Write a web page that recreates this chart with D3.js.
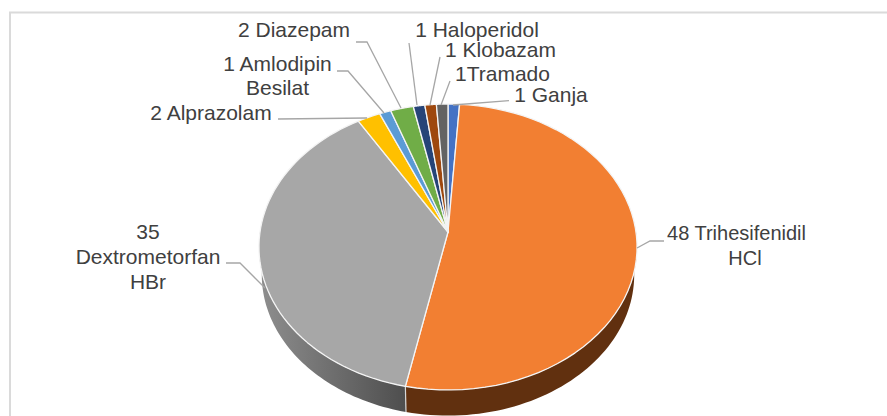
<!DOCTYPE html>
<html><head><meta charset="utf-8">
<script src="https://cdn.jsdelivr.net/npm/d3@7/dist/d3.min.js"></script>
<style>html,body{margin:0;background:#fff}svg{display:block}</style></head>
<body><svg id="c" width="887" height="416"></svg>
<script>
const categories=["Ganja","Trihesifenidil HCl","Dextrometorfan HBr","Alprazolam","Amlodipin Besilat","Diazepam","Haloperidol","Klobazam","Tramadol"];
const values=[1,48,35,2,1,2,1,1,1];
const colors=["#4472C4","#F27F32","#A7A7A7","#FFC000","#5B9BD5","#70AD47","#264478","#9E480E","#636363"];
const wallColors=["#2A4578","#61300F","url(#wallGray)","#9A7400","#37608A","#43692A","#172A4A","#602C08","#3C3C3C"];
const labelLines=[
 {lines:["1 Ganja"],x:551,y:[102],size:21},
 {lines:["48 Trihesifenidil","HCl"],x:[736.5,745],y:[240,265],size:20},
 {lines:["35","Dextrometorfan","HBr"],x:[148,148,148],y:[239,264,289],size:21},
 {lines:["2 Alprazolam"],x:211,y:[120],size:21},
 {lines:["1 Amlodipin","Besilat"],x:[277.5,277.5],y:[71,95],size:21},
 {lines:["2 Diazepam"],x:294,y:[37],size:21},
 {lines:["1 Haloperidol"],x:477,y:[37],size:21},
 {lines:["1 Klobazam"],x:500.5,y:[57],size:21},
 {lines:["1Tramado"],x:502.5,y:[81],size:21}
];
const leaders=[
 [[509,100.7],[453,105]],
 [[664,241],[650,241],[637,248]],
 [[226,263],[240,263],[265,288]],
 [[278,119],[367,118]],
 [[337,71],[348,71],[384,113]],
 [[356,42],[367,42],[401,108]],
 [[409,43],[417,105]],
 [[440,57],[430,105]],
 [[450,81],[441,105]]
];
const svg=d3.select("#c");
const defs=svg.append("defs");
const g=defs.append("linearGradient").attr("id","wallGray").attr("gradientUnits","userSpaceOnUse")
 .attr("x1",260).attr("x2",406).attr("y1",0).attr("y2",0);
g.append("stop").attr("offset","0").attr("stop-color","#8E8E8E");
g.append("stop").attr("offset","1").attr("stop-color","#4E4E4E");
// frame
svg.append("path").attr("d","M10 416V12.5H887").attr("fill","none").attr("stroke","#DADADA").attr("stroke-width",2);
// tilted-disc projection
const k=0.105,apexX=448,apexY=232,R=188,Q=141.4,depth=26,shrink=0.985;
const face=t=>{const u=Math.sin(t),v=-Math.cos(t),d=1-k*v;return [apexX+R*u/d,apexY+Q*v/d];};
const low=t=>{const p=face(t);return [apexX+(p[0]-apexX)*shrink,apexY+(p[1]-apexY)*shrink+depth+2];};
const pie=d3.pie().sort(null).value(d=>d)(values);
const line=d3.line();
const samples=(a,b)=>d3.range(0,61).map(i=>a+(b-a)*i/60);
// side walls: only the near half of the disc
const HALF=Math.PI/2,OPP=Math.PI*1.5;
pie.forEach((s,i)=>{
 const a=Math.max(s.startAngle,HALF),b=Math.min(s.endAngle,OPP);
 if(b<=a)return;
 const ts=samples(a,b);
 const pts=ts.map(face).concat(ts.slice().reverse().map(low));
 svg.append("path").attr("d",line(pts)+"Z").attr("fill",wallColors[i]);
});
// seam on the wall
const seam=pie[1].endAngle;
svg.append("path").attr("d",line([face(seam),low(seam)])).attr("stroke","#D8D8D8").attr("stroke-width",1.2).attr("fill","none");
// top faces
pie.forEach((s,i)=>{
 const pts=[[apexX,apexY]].concat(samples(s.startAngle,s.endAngle).map(face));
 svg.append("path").attr("d",line(pts)+"Z").attr("fill",colors[i]).attr("stroke","#F4F4F4").attr("stroke-width",1.3).attr("stroke-linejoin","round");
});
// leaders
leaders.forEach(l=>svg.append("path").attr("d",line(l)).attr("fill","none").attr("stroke","#A6A6A6").attr("stroke-width",1.3));
// labels
labelLines.forEach(l=>l.lines.forEach((t,j)=>{
 svg.append("text").attr("x",Array.isArray(l.x)?l.x[j]:l.x).attr("y",l.y[j]).attr("text-anchor","middle")
  .attr("font-family","'Liberation Sans',Arial,sans-serif").attr("font-size",l.size).attr("fill","#404040").text(t);
}));
</script></body></html>
